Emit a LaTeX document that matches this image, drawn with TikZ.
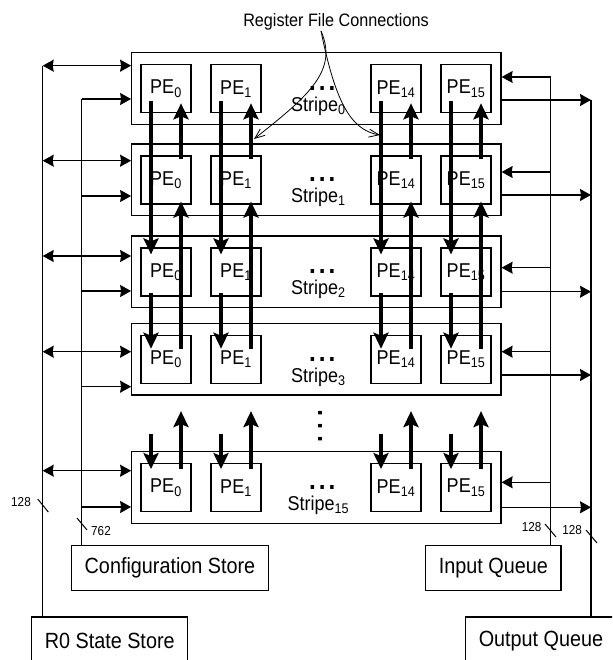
\documentclass[tikz,border=0pt]{standalone}
\usepackage{fontspec}
\setmainfont{Liberation Sans}[FakeStretch=0.9]
\usetikzlibrary{arrows.meta,positioning}
\newcommand{\PE}[1]{PE\textsubscript{#1}}
\tikzset{
  stripebox/.style={draw, line width=1.2pt, minimum width=369.3pt, minimum height=71.6pt, inner sep=0pt},
  pebox/.style={draw, line width=1.2pt, minimum width=50pt, minimum height=48pt, inner sep=0pt, font=\fontsize{20}{24}\selectfont},
  storebox/.style={draw, line width=1.2pt, inner sep=0pt, font=\fontsize{22}{26}\selectfont},
  stripelbl/.style={font=\fontsize{20}{24}\selectfont, inner sep=0pt},
  dotlbl/.style={font=\fontsize{27}{30}\selectfont\bfseries, inner sep=0pt},
  widthlbl/.style={font=\fontsize{13}{15}\selectfont, inner sep=0pt},
  bus/.style={line width=1.2pt},
  busarrow/.style={line width=1.2pt, -{Stealth[length=11pt,width=12pt,inset=1pt]}},
  dblarrow/.style={line width=1.2pt, {Stealth[length=11pt,width=12pt,inset=1pt]}-{Stealth[length=11pt,width=12pt,inset=1pt]}},
  rfarrow/.style={line width=3.3pt, -{Stealth[length=16pt,width=15pt,inset=3pt]}},
  rfline/.style={line width=0.8pt, -{Straight Barb[length=10pt,width=8pt]}}
}
\begin{document}
\begin{tikzpicture}[x=1pt,y=-1pt]
\useasboundingbox (0,0) rectangle (612,660);
\clip (0,0) rectangle (612,660);

\foreach \i/\ytop/\ya/\yb/\yc/\yd in {0/52.7/65.7/99/77/100, 1/144/160.7/196/172/195,
    2/236/256/291/267.7/291.7, 3/323.3/351.7/386.7/351.7/375, 15/451.7/470.7/507/482.3/507.3}{
  \node[stripebox] (s\i) at (316.35,\ytop+35.8) {};
  \foreach \j/\px in {0/166, 1/236, 14/396, 15/466}
    \node[pebox] (s\i p\j) at (\px,\ytop+36) {\PE{\j}};
  \node[dotlbl, anchor=base] (d\i) at ([xshift=6pt,yshift=-2pt]s\i.center) {.\hspace{3pt}.\hspace{3pt}.};
  \node[stripelbl, anchor=base] (l\i) at ([xshift=2pt,yshift=-23pt]s\i.center) {Stripe\textsubscript{\i}};
  \draw[dblarrow] (42.7,\ya) -- (s\i.west |- 0,\ya);
  \draw[busarrow] (81.7,\yb) -- (s\i.west |- 0,\yb);
  \draw[busarrow] (550.7,\yc) -- (s\i.east |- 0,\yc);
  \draw[busarrow] (s\i.east |- 0,\yd) -- (591,\yd);
}
\node[dotlbl, rotate=90] (vd) at (320,426) {.\hspace{6pt}.\hspace{6pt}.};

\foreach \j in {0,1,14,15}{
  \draw[rfarrow] ([xshift=-15pt,yshift=12pt]s0p\j.south) -- ([xshift=-15pt,yshift=-7pt]s2p\j.north);
  \draw[rfarrow] ([xshift=-15pt,yshift=4pt]s2p\j.south) -- ([xshift=-15pt,yshift=-14pt]s3p\j.north);
  \draw[rfarrow] ([xshift=-15pt,yshift=29pt]s15p\j.north) -- ([xshift=-15pt,yshift=-6pt]s15p\j.north);
  \draw[rfarrow] ([xshift=15pt,yshift=-4pt]s1p\j.north) -- ([xshift=15pt,yshift=10pt]s0p\j.south);
  \draw[rfarrow] ([xshift=15pt,yshift=-14pt]s3p\j.north) -- ([xshift=15pt,yshift=3pt]s1p\j.south);
  \draw[rfarrow] ([xshift=15pt,yshift=-6pt]s15p\j.north) -- ([xshift=15pt,yshift=52pt]s15p\j.north);
}

\node[storebox, minimum width=196.6pt, minimum height=45pt] (cfg) at (170,568.2) {Configuration Store};
\node[storebox, minimum width=135.3pt, minimum height=45pt] (inq) at (493.35,568.2) {Input Queue};
\node[storebox, minimum width=156pt, minimum height=47.4pt] (r0) at (109.7,640.7) {R0 State Store};
\node[storebox, minimum width=150.6pt, minimum height=47.4pt] (outq) at (541,640.7) {Output Queue};

\draw[bus] (42.7,65.7) -- (r0.north -| 42.7,0);
\draw[bus] (81.7,99) -- (cfg.north -| 81.7,0);
\draw[bus] (550.7,77) -- (inq.north -| 550.7,0);
\draw[bus] (591,100) -- (outq.north -| 591,0);

\draw[line width=1pt] (37.7,499) -- (48.3,512);
\node[widthlbl] (w1) at (21,501.7) {128};
\draw[line width=1pt] (77,518) -- (87,530);
\node[widthlbl] (w2) at (101,531) {762};
\draw[line width=1pt] (545,524) -- (556,537);
\node[widthlbl] (w3) at (531.7,526.7) {128};
\draw[line width=1pt] (586,530) -- (597,543);
\node[widthlbl] (w4) at (572,530) {128};

\node[font=\fontsize{18}{21}\selectfont, inner sep=1pt] (rfc) at (336,21.4) {Register File Connections};
\coordinate (rfa) at (254,139);
\coordinate (rfb) at (380,135);
\draw[rfline] ([xshift=-15pt]rfc.south) .. controls (338,70) and (310,95) .. (rfa);
\draw[rfline] ([xshift=-15pt]rfc.south) .. controls (335,100) and (350,130) .. (rfb);
\end{tikzpicture}
\end{document}
